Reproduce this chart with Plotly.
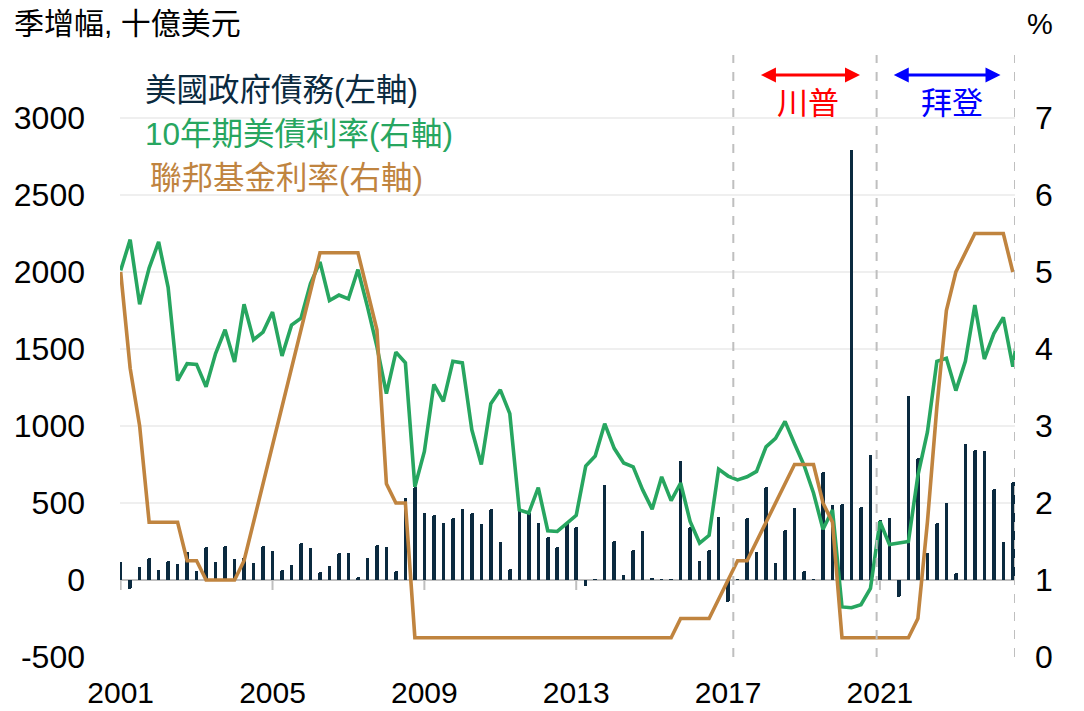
import plotly.graph_objects as go

# ---------------- data ----------------
quarters = [f"{y}Q{q}" for y in range(2001, 2025) for q in range(1, 5)]  # 2001Q1 .. 2024Q4

# Quarterly change in US government debt (billion USD), 2001Q1 .. 2024Q3
debt_change = [
    115, -58, 87, 140, 67, 125, 107, 180, 58, 216, 118, 218, 136, 147, 108, 221,
    186, 63, 97, 242, 206, 52, 91, 177, 173, 21, 143, 227, 212, 60, 535, 606,
    433, 424, 368, 403, 463, 433, 361, 463, 247, 73, 448, 433, 368, 277, 214, 368,
    342, -39, 5, 617, 253, 32, 195, 320, 12, 3, 3, 775, 346, 121, 195, 407,
    -141, 3, 405, 180, 602, 108, 325, 465, 58, 3, 703, 487, 491, 2792, 476, 810,
    390, 405, -113, 1197, 790, 173, 368, 498, 43, 881, 844, 840, 593, 249, 638,
]

# 10-year Treasury yield (%), quarter end, 2001Q1 .. 2024Q4
ust10y = [
    5.02, 5.42, 4.58, 5.05, 5.39, 4.80, 3.59, 3.81, 3.80, 3.51, 3.94, 4.25,
    3.83, 4.58, 4.12, 4.22, 4.48, 3.91, 4.31, 4.40, 4.85, 5.13, 4.63, 4.70,
    4.65, 5.03, 4.55, 4.03, 3.42, 3.96, 3.82, 2.21, 2.67, 3.54, 3.32, 3.84,
    3.82, 2.95, 2.50, 3.29, 3.47, 3.16, 1.91, 1.87, 2.20, 1.64, 1.63, 1.74,
    1.84, 2.48, 2.61, 3.03, 2.71, 2.52, 2.47, 2.17, 1.92, 2.34, 2.03, 2.26,
    1.76, 1.48, 1.58, 2.44, 2.35, 2.30, 2.34, 2.41, 2.73, 2.84, 3.06, 2.77,
    2.49, 2.13, 1.66, 1.91, 0.65, 0.64, 0.68, 0.89, 1.76, 1.46, 1.48, 1.50,
    2.36, 2.92, 3.84, 3.88, 3.46, 3.84, 4.57, 3.87, 4.20, 4.41, 3.77, 4.57,
]

# Fed funds target rate (upper, %), quarter end, 2001Q1 .. 2024Q3
fed_funds = [
    5.00, 3.75, 3.00, 1.75, 1.75, 1.75, 1.75, 1.25, 1.25, 1.00, 1.00, 1.00,
    1.00, 1.25, 1.75, 2.25, 2.75, 3.25, 3.75, 4.25, 4.75, 5.25, 5.25, 5.25,
    5.25, 5.25, 4.75, 4.25, 2.25, 2.00, 2.00, 0.25, 0.25, 0.25, 0.25, 0.25,
    0.25, 0.25, 0.25, 0.25, 0.25, 0.25, 0.25, 0.25, 0.25, 0.25, 0.25, 0.25,
    0.25, 0.25, 0.25, 0.25, 0.25, 0.25, 0.25, 0.25, 0.25, 0.25, 0.25, 0.50,
    0.50, 0.50, 0.50, 0.75, 1.00, 1.25, 1.25, 1.50, 1.75, 2.00, 2.25, 2.50,
    2.50, 2.50, 2.00, 1.75, 0.25, 0.25, 0.25, 0.25, 0.25, 0.25, 0.25, 0.25,
    0.50, 1.75, 3.25, 4.50, 5.00, 5.25, 5.50, 5.50, 5.50, 5.50, 5.00,
]

tick_quarters = ["2001Q1", "2005Q1", "2009Q1", "2013Q1", "2017Q1", "2021Q1"]
tick_labels = ["2001", "2005", "2009", "2013", "2017", "2021"]
left_ticks = [-500, 0, 500, 1000, 1500, 2000, 2500, 3000]
right_ticks = [0, 1, 2, 3, 4, 5, 6, 7]

series_names = ["美國政府債務(左軸)", "10年期美債利率(右軸)", "聯邦基金利率(右軸)"]

# ---------------- style ----------------
NAVY = "#0B2A3F"
GREEN = "#27A660"
BROWN = "#C0843F"
GRAY = "#BFBFBF"
LATIN = "Liberation Sans, Arial, Noto Sans CJK TC"
CJK = "Liberation Sans, Arial, Noto Sans CJK TC"

fig = go.Figure()
fig.add_trace(go.Bar(
    x=quarters[:len(debt_change)], y=debt_change, width=0.37,
    marker=dict(color=NAVY, line=dict(width=0), cornerradius=2),
    name=series_names[0], yaxis="y", showlegend=False,
))
fig.add_trace(go.Scatter(
    x=quarters[:len(ust10y)], y=ust10y, mode="lines",
    line=dict(color=GREEN, width=3.6), name=series_names[1], yaxis="y2", showlegend=False,
))
fig.add_trace(go.Scatter(
    x=quarters[:len(fed_funds)], y=fed_funds, mode="lines",
    line=dict(color=BROWN, width=3.6), name=series_names[2], yaxis="y2", showlegend=False,
))

shapes = []
# dashed presidential term markers
for xv in [64.55, 79.65, 94.23]:
    shapes.append(dict(type="line", xref="x", yref="paper", x0=xv, x1=xv, y0=0, y1=1,
                       line=dict(color=GRAY, width=2, dash="dash"), layer="above"))
# small tick marks below the zero line
for tq in tick_quarters:
    i = quarters.index(tq)
    shapes.append(dict(type="line", xref="x", yref="y", x0=i, x1=i, y0=0, y1=-65,
                       line=dict(color=GRAY, width=2), layer="below"))

annotations = [
    dict(text="季增幅, 十億美元", xref="paper", yref="paper", x=-0.1207, y=1.052,
         xanchor="left", yanchor="middle", showarrow=False,
         font=dict(family=CJK, size=30, color="#000000")),
    dict(text="%", xref="paper", yref="paper", x=1.028, y=1.052,
         xanchor="center", yanchor="middle", showarrow=False,
         font=dict(family=LATIN, size=29, color="#000000")),
    dict(text=series_names[0], xref="paper", yref="paper", x=0.0257, y=0.942,
         xanchor="left", yanchor="middle", showarrow=False,
         font=dict(family=CJK, size=31.5, color=NAVY)),
    dict(text=series_names[1], xref="paper", yref="paper", x=0.0257, y=0.869,
         xanchor="left", yanchor="middle", showarrow=False,
         font=dict(family=CJK, size=31.5, color=GREEN)),
    dict(text=series_names[2], xref="paper", yref="paper", x=0.0313, y=0.796,
         xanchor="left", yanchor="middle", showarrow=False,
         font=dict(family=CJK, size=31.5, color=BROWN)),
    dict(text="川普", xref="x", yref="y", x=72.4, y=3097, showarrow=False,
         xanchor="center", yanchor="middle", font=dict(family=CJK, size=31, color="#FF0000")),
    dict(text="拜登", xref="x", yref="y", x=87.6, y=3097, showarrow=False,
         xanchor="center", yanchor="middle", font=dict(family=CJK, size=31, color="#0000FF")),
    dict(text="", xref="x", yref="y", x=77.9, y=3279, ax=67.3, ay=3279, axref="x", ayref="y",
         showarrow=True, arrowhead=2, arrowside="end+start", arrowwidth=3, arrowsize=1,
         arrowcolor="#FF0000"),
    dict(text="", xref="x", yref="y", x=92.7, y=3279, ax=81.3, ay=3279, axref="x", ayref="y",
         showarrow=True, arrowhead=2, arrowside="end+start", arrowwidth=3, arrowsize=1,
         arrowcolor="#0000FF"),
]

# The page body adds an 8px offset, so the figure is sized/margined to land the
# plot area where the reference has it inside the 1084x711 window.
fig.update_layout(
    width=1076, height=703,
    margin=dict(l=112, r=69, t=47, b=54, autoexpand=False),
    paper_bgcolor="white", plot_bgcolor="white",
    bargap=0, showlegend=False,
    font=dict(family=LATIN, color="#000000"),
    xaxis=dict(type="category", categoryorder="array", categoryarray=quarters,
               range=[-0.07, 94.23], tickvals=tick_quarters, ticktext=tick_labels,
               showgrid=False, showline=False, zeroline=False, ticks="", automargin=False,
               tickfont=dict(family=LATIN, size=30, color="#000000"),
               ticklabelstandoff=15),
    yaxis=dict(range=[-500, 3409], tickvals=left_ticks, ticktext=[str(v) for v in left_ticks],
               showgrid=True, gridcolor="#EFEFEF", gridwidth=2,
               zeroline=True, zerolinecolor=GRAY, zerolinewidth=2,
               showline=False, ticks="", automargin=False,
               tickfont=dict(family=LATIN, size=32, color="#000000"),
               ticklabelstandoff=34),
    yaxis2=dict(range=[0, 7.818], tickvals=right_ticks, ticktext=[str(v) for v in right_ticks],
                overlaying="y", side="right", showgrid=False, zeroline=False,
                showline=False, ticks="", automargin=False,
                tickfont=dict(family=LATIN, size=32, color="#000000"),
                ticklabelstandoff=19),
    shapes=shapes,
    annotations=annotations,
)

fig.write_html("out.html")
